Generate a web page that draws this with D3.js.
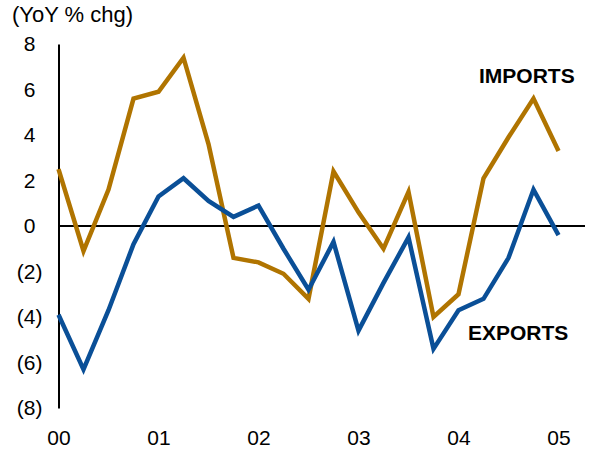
<!DOCTYPE html>
<html>
<head>
<meta charset="utf-8">
<script src="https://cdn.jsdelivr.net/npm/d3@7"></script>
<style>
  html, body { margin: 0; padding: 0; background: #fff; }
  svg { display: block; }
  text { font-family: "Liberation Sans", Arial, sans-serif; fill: #000; }
</style>
</head>
<body>
<svg id="chart" width="590" height="455"></svg>
<script>
// Quarterly periods 2000Q1 .. 2005Q1
const quarters = ["00Q1","00Q2","00Q3","00Q4","01Q1","01Q2","01Q3","01Q4","02Q1","02Q2","02Q3","02Q4",
                  "03Q1","03Q2","03Q3","03Q4","04Q1","04Q2","04Q3","04Q4","05Q1"];
const imports = [2.5, -1.1, 1.6, 5.6, 5.9, 7.4, 3.6, -1.4, -1.6, -2.1, -3.2, 2.4,
                 0.6, -1.0, 1.5, -4.0, -3.0, 2.1, 3.9, 5.6, 3.3];
const exports = [-3.9, -6.3, -3.7, -0.8, 1.3, 2.1, 1.1, 0.4, 0.9, -1.0, -2.8, -0.7,
                 -4.6, -2.5, -0.5, -5.4, -3.7, -3.2, -1.4, 1.6, -0.4];
const yTicks = [8, 6, 4, 2, 0, -2, -4, -6, -8];
const xTickLabels = ["00", "01", "02", "03", "04", "05"];

const svg = d3.select("#chart");
const x = d3.scaleLinear().domain([0, 20]).range([58.5, 558.5]);
const y = d3.scaleLinear().domain([-8, 8]).range([408, 44]);

// Title
svg.append("text").attr("x", 12).attr("y", 22)
  .style("font-size", "22px").text("(YoY % chg)");

// Y axis
const yAxis = d3.axisLeft(y).tickValues(yTicks).tickSize(0).tickPadding(23)
  .tickFormat(d => d < 0 ? "(" + Math.abs(d) + ")" : String(d));
const gy = svg.append("g").attr("transform", "translate(58.5,0)").call(yAxis);
gy.select(".domain").attr("stroke", "#000").attr("stroke-width", 2);
gy.selectAll(".tick text")
  .style("font-size", "21px").style("font-family", "'Liberation Sans', Arial, sans-serif")
  .attr("fill", "#000")
  .attr("dx", d => d < 0 ? 7 : 0);

// X axis labels
const xAxis = d3.axisBottom(x).tickValues([0, 4, 8, 12, 16, 20]).tickSize(0).tickPadding(0)
  .tickFormat((d, i) => xTickLabels[i]);
const gx = svg.append("g").attr("transform", "translate(0,426)").call(xAxis);
gx.select(".domain").remove();
gx.selectAll(".tick text")
  .style("font-size", "21px").style("font-family", "'Liberation Sans', Arial, sans-serif")
  .attr("fill", "#000").attr("dy", "0.9em").attr("y", 0);

// Zero line
svg.append("line").attr("x1", 58).attr("x2", 585).attr("y1", y(0)).attr("y2", y(0))
  .attr("stroke", "#000").attr("stroke-width", 2);

const line = d3.line().x((d, i) => x(i)).y(d => y(d));

svg.append("path").datum(imports).attr("d", line)
  .attr("fill", "none").attr("stroke", "#B07400").attr("stroke-width", 4.5)
  .attr("stroke-linejoin", "miter");
svg.append("path").datum(exports).attr("d", line)
  .attr("fill", "none").attr("stroke", "#0A4F97").attr("stroke-width", 4.5)
  .attr("stroke-linejoin", "miter");

// Series labels
svg.append("text").attr("x", 479).attr("y", 83)
  .style("font-size", "21px").style("font-weight", "bold").text("IMPORTS");
svg.append("text").attr("x", 468).attr("y", 340)
  .style("font-size", "21px").style("font-weight", "bold").text("EXPORTS");
</script>
</body>
</html>
